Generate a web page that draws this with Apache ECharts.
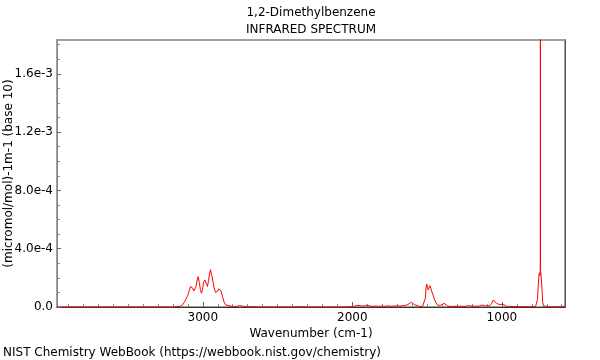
<!DOCTYPE html>
<html>
<head>
<meta charset="utf-8">
<script src="https://cdn.jsdelivr.net/npm/echarts@6/dist/echarts.min.js"></script>
<style>
html,body{margin:0;padding:0;background:#fff;}
#chart{width:600px;height:360px;}
</style>
</head>
<body>
<div id="chart"></div>
<script>
// Wavenumbers (cm-1)
const wavenumbers = [
 3975, 3500, 3200, 3150, 3135, 3120, 3105, 3098, 3090, 3082, 3076, 3068, 3060, 3054, 3045, 3038, 3031, 3024, 3016, 3009,
 3002, 2994, 2986, 2980, 2974, 2969, 2962, 2955, 2948, 2943, 2938, 2932, 2924, 2915, 2908, 2900, 2893, 2886, 2878, 2868,
 2858, 2848, 2835, 2800, 2770, 2755, 2746, 2735, 2700, 2600, 2400, 2360, 2340, 2300, 2050, 2000, 1980, 1955, 1940, 1920,
 1903, 1880, 1860, 1840, 1820, 1800, 1780, 1760, 1740, 1720, 1700, 1680, 1660, 1640, 1620, 1605, 1595, 1583, 1570, 1550,
 1530, 1518, 1512, 1507, 1502, 1497, 1493, 1488, 1482, 1476, 1468, 1460, 1450, 1440, 1430, 1420, 1410, 1398, 1386, 1375,
 1362, 1340, 1300, 1280, 1260, 1240, 1225, 1214, 1200, 1170, 1150, 1135, 1125, 1115, 1100, 1080, 1068, 1058, 1050, 1045,
 1035, 1025, 1015, 1008, 1002, 995, 985, 970, 950, 920, 880, 850, 820, 790, 775, 768, 762, 757, 752, 749,
 746, 743.5, 742.5, 741.5, 739, 736, 732, 728, 723, 715, 680, 640, 600, 585, 578
];
// Absorbance in units of 1e-4 (micromol/mol)-1 m-1
const absorbanceE4 = [
 0, 0, 0, 0.05, 0.15, 0.4, 0.7, 0.85, 1.15, 1.4, 1.47, 1.3, 1.1, 1.05, 1.4, 1.85, 2.08, 1.7, 1.2, 0.94,
 1.2, 1.7, 1.85, 1.85, 1.55, 1.4, 1.8, 2.3, 2.56, 2.25, 2.1, 1.75, 1.3, 1.0, 0.94, 1.1, 1.25, 1.28, 1.1, 0.7,
 0.35, 0.15, 0.06, 0.03, 0.05, 0.1, 0.12, 0.06, 0.02, 0, 0, 0.01, 0.02, 0, 0, 0.02, 0.08, 0.12, 0.06, 0.08,
 0.12, 0.06, 0.05, 0.07, 0.04, 0.06, 0.05, 0.08, 0.05, 0.06, 0.08, 0.06, 0.1, 0.12, 0.22, 0.32, 0.3, 0.15, 0.06, 0.04,
 0.05, 0.15, 0.6, 1.3, 1.56, 1.35, 1.17, 1.3, 1.46, 1.3, 1.05, 0.82, 0.5, 0.28, 0.12, 0.08, 0.12, 0.22, 0.25, 0.15,
 0.06, 0.04, 0.05, 0.06, 0.04, 0.05, 0.1, 0.12, 0.06, 0.05, 0.08, 0.13, 0.15, 0.1, 0.06, 0.1, 0.25, 0.48, 0.35, 0.38,
 0.25, 0.14, 0.16, 0.22, 0.25, 0.2, 0.1, 0.05, 0.03, 0.04, 0.02, 0.03, 0.02, 0.03, 0.03, 0.1, 0.5, 1.4, 2.2, 2.35,
 2.15, 2.5, 20, 2.5, 2.3, 2.2, 1.3, 0.4, 0.08, 0.02, 0.01, 0.01, 0.02, 0.05, 0.1
];
const E4 = 1e-4;

const xMajorTicks = [1000, 2000, 3000];
const xTickLabels = ['1000', '2000', '3000'];
const xMinorTicks = [600,700,800,900,1100,1200,1300,1400,1500,1600,1700,1800,1900,2100,2200,2300,2400,2500,2600,2700,2800,2900,3100,3200,3300,3400,3500,3600,3700,3800,3900];
const yMajorTicks = [0, 4e-4, 8e-4, 1.2e-3, 1.6e-3];
const yTickLabels = ['0.0', '4.0e-4', '8.0e-4', '1.2e-3', '1.6e-3'];
const yMinorTicks = [1e-4,2e-4,3e-4,5e-4,6e-4,7e-4,9e-4,1.0e-3,1.1e-3,1.3e-3,1.4e-3,1.5e-3,1.7e-3,1.8e-3];

const X_MIN = 578, X_MAX = 3975, Y_MIN = 0, Y_MAX = 1.832e-3;
const FONT = '"DejaVu Sans", sans-serif';

const seriesData = wavenumbers.map((w, i) => [w, absorbanceE4[i] * E4]);

function labelFor(values, labels, v) {
  let best = 0, bd = Infinity;
  values.forEach((t, i) => { const d = Math.abs(t - v); if (d < bd) { bd = d; best = i; } });
  return labels[best];
}

const chart = echarts.init(document.getElementById('chart'), null, {renderer: 'canvas'});
chart.setOption({
  animation: false,
  backgroundColor: '#fff',
  grid: {left: 57, right: 35, top: 40, bottom: 53, containLabel: false, outerBoundsMode: 'none',
    show: true, borderColor: '#a0a0a0', borderWidth: 2, backgroundColor: 'transparent'},
  xAxis: [
    {
      type: 'value', inverse: true, min: X_MIN, max: X_MAX, position: 'bottom',
      name: 'Wavenumber (cm-1)', nameLocation: 'middle', nameGap: 21, nameMoveOverlap: false,
      nameTextStyle: {fontFamily: FONT, fontSize: 12, color: '#000'},
      axisLine: {show: true, lineStyle: {color: '#333', width: 1}},
      axisTick: {show: true, inside: true, length: 5, customValues: xMajorTicks, lineStyle: {color: '#666'}},
      axisLabel: {show: true, margin: 5, customValues: xMajorTicks, fontFamily: FONT, fontSize: 12, color: '#000',
        formatter: v => labelFor(xMajorTicks, xTickLabels, v)},
      splitLine: {show: false}
    },
    {
      type: 'value', inverse: true, min: X_MIN, max: X_MAX, position: 'bottom',
      axisLine: {show: false},
      axisTick: {show: true, inside: true, length: 3, customValues: xMinorTicks, lineStyle: {color: '#888'}},
      axisLabel: {show: false},
      splitLine: {show: false}
    }
  ],
  yAxis: [
    {
      type: 'value', min: Y_MIN, max: Y_MAX, position: 'left',
      name: '(micromol/mol)-1m-1 (base 10)', nameLocation: 'middle', nameGap: 42, nameRotate: 90, nameMoveOverlap: false,
      nameTextStyle: {fontFamily: FONT, fontSize: 12, color: '#000'},
      axisLine: {show: true, lineStyle: {color: '#888', width: 1}},
      axisTick: {show: true, inside: true, length: 4, customValues: yMajorTicks, lineStyle: {color: '#666'}},
      axisLabel: {show: true, margin: 4, customValues: yMajorTicks, fontFamily: FONT, fontSize: 12, color: '#000',
        formatter: v => labelFor(yMajorTicks, yTickLabels, v)},
      splitLine: {show: false}
    },
    {
      type: 'value', min: Y_MIN, max: Y_MAX, position: 'left',
      axisLine: {show: false},
      axisTick: {show: true, inside: true, length: 3, customValues: yMinorTicks, lineStyle: {color: '#888'}},
      axisLabel: {show: false}, splitLine: {show: false}
    },
    {
      type: 'value', min: Y_MIN, max: Y_MAX, position: 'right',
      axisLine: {show: true, lineStyle: {color: '#555', width: 1}},
      axisTick: {show: false}, axisLabel: {show: false}, splitLine: {show: false}
    }
  ],
  graphic: [
    {type: 'text', x: 311, y: 13, style: {text: '1,2-Dimethylbenzene', align: 'center', verticalAlign: 'middle', textAlign: 'center', textVerticalAlign: 'middle', font: '12px ' + FONT, fill: '#000'}},
    {type: 'text', x: 311, y: 30, style: {text: 'INFRARED SPECTRUM', align: 'center', verticalAlign: 'middle', textAlign: 'center', textVerticalAlign: 'middle', font: '12px ' + FONT, fill: '#000'}},
    {type: 'text', x: 3, y: 353, style: {text: 'NIST Chemistry WebBook (https://webbook.nist.gov/chemistry)', align: 'left', verticalAlign: 'middle', textAlign: 'left', textVerticalAlign: 'middle', font: '12px ' + FONT, fill: '#000'}}
  ],
  series: [{
    type: 'line', xAxisIndex: 0, yAxisIndex: 0, data: seriesData,
    showSymbol: false, symbol: 'none', smooth: false, clip: true,
    lineStyle: {color: '#ff0000', width: 1}
  }]
});
</script>
</body>
</html>
